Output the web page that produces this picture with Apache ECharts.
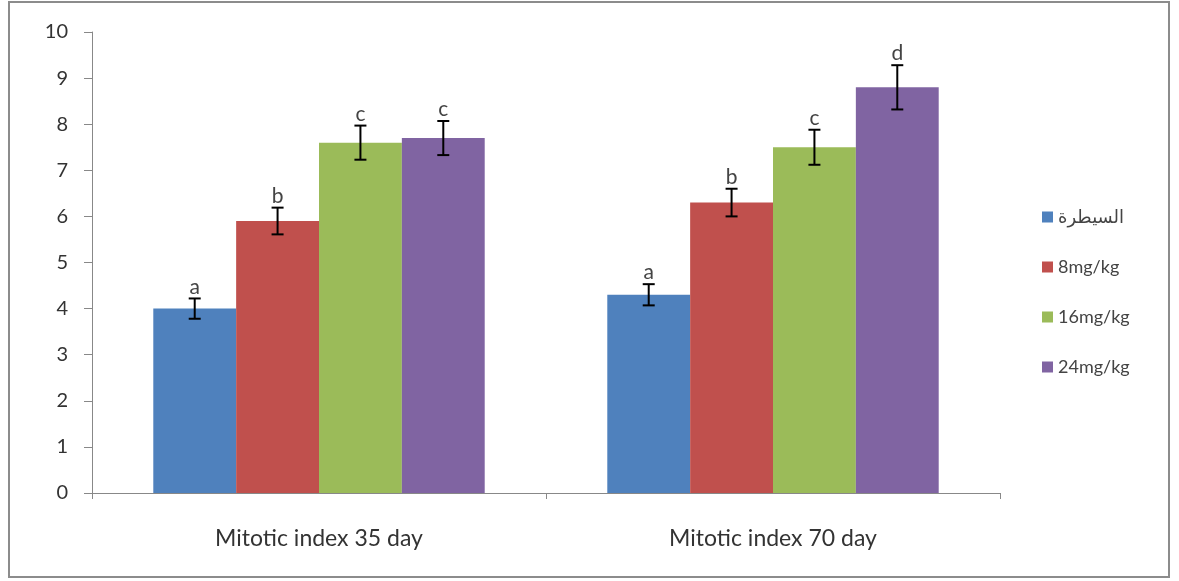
<!DOCTYPE html>
<html>
<head>
<meta charset="utf-8">
<script src="https://cdn.jsdelivr.net/npm/echarts@6/dist/echarts.min.js"></script>
<style>
  html, body { margin: 0; padding: 0; background: #fff; }
  #chart { width: 1179px; height: 581px; }
</style>
</head>
<body>
<div id="chart"></div>
<script>
// Mitotic index by dose group at two time points
const categories = ['Mitotic index 35 day', 'Mitotic index 70 day'];
const seriesNames = ['السيطرة', '8mg/kg', '16mg/kg', '24mg/kg'];
const colors = ['#4F81BD', '#C0504D', '#9BBB59', '#8064A2'];

const controlValues = [4.0, 4.3];
const dose8Values = [5.9, 6.3];
const dose16Values = [7.6, 7.5];
const dose24Values = [7.7, 8.8];

const controlErr = [0.22, 0.23];
const dose8Err = [0.29, 0.3];
const dose16Err = [0.37, 0.38];
const dose24Err = [0.37, 0.48];

const controlLetters = ['a', 'a'];
const dose8Letters = ['b', 'b'];
const dose16Letters = ['c', 'c'];
const dose24Letters = ['c', 'd'];

const yTicks = [0, 1, 2, 3, 4, 5, 6, 7, 8, 9, 10];

const values = [controlValues, dose8Values, dose16Values, dose24Values];
const errors = [controlErr, dose8Err, dose16Err, dose24Err];
const letters = [controlLetters, dose8Letters, dose16Letters, dose24Letters];

const CATEGORY_GAP = 0.27;
const FONT = 'Lato, "DejaVu Sans", sans-serif';

const chart = echarts.init(document.getElementById('chart'));

const barSeries = seriesNames.map((name, i) => ({
  name: name,
  type: 'bar',
  data: values[i],
  itemStyle: { color: colors[i] },
  barGap: '0%',
  barCategoryGap: (CATEGORY_GAP * 100) + '%',
  emphasis: { disabled: true }
}));

// Error bars and significance letters, positioned over each grouped bar
const errorSeries = seriesNames.map((name, i) => ({
  type: 'custom',
  name: name + '_err',
  z: 5,
  silent: true,
  data: values[i].map((v, j) => [j, v, errors[i][j], letters[i][j]]),
  renderItem: function (params, api) {
    const catIdx = api.value(0);
    const val = api.value(1);
    const err = api.value(2);
    const band = api.size([1, 0])[0];
    const barW = band * (1 - CATEGORY_GAP) / seriesNames.length;
    const offset = (i - (seriesNames.length - 1) / 2) * barW;
    const top = api.coord([catIdx, val + err]);
    const bot = api.coord([catIdx, val - err]);
    const x = top[0] + offset;
    const cap = 6;
    const style = { stroke: '#000', lineWidth: 2 };
    return {
      type: 'group',
      children: [
        { type: 'line', shape: { x1: x, y1: top[1], x2: x, y2: bot[1] }, style: style },
        { type: 'line', shape: { x1: x - cap, y1: top[1], x2: x + cap, y2: top[1] }, style: style },
        { type: 'line', shape: { x1: x - cap, y1: bot[1], x2: x + cap, y2: bot[1] }, style: style },
        {
          type: 'text',
          x: x, y: top[1] - 1,
          style: {
            text: api.value(3),
            textAlign: 'center', textVerticalAlign: 'bottom',
            fontSize: 21, fontFamily: FONT, fill: '#444'
          }
        }
      ]
    };
  }
}));

chart.setOption({
  animation: false,
  backgroundColor: '#fff',
  graphic: [{
    type: 'rect',
    shape: { x: 9, y: 2, width: 1160, height: 575 },
    style: { fill: 'none', stroke: '#8c8c8c', lineWidth: 2 },
    silent: true
  }],
  grid: { left: 92, right: 179, top: 32, bottom: 88 },
  legend: {
    data: seriesNames,
    orient: 'vertical',
    left: 1037,
    top: 203,
    itemWidth: 11,
    itemHeight: 11,
    itemGap: 32,
    icon: 'rect',
    textStyle: { fontSize: 18, fontFamily: FONT, color: '#444' }
  },
  xAxis: {
    type: 'category',
    data: categories,
    axisLine: { lineStyle: { color: '#888' } },
    axisTick: { show: true, length: 6, lineStyle: { color: '#888' } },
    axisLabel: { fontSize: 23, fontFamily: FONT, color: '#333', margin: 34 }
  },
  yAxis: {
    type: 'value',
    min: yTicks[0],
    max: yTicks[yTicks.length - 1],
    interval: 1,
    splitLine: { show: false },
    axisLine: { show: true, lineStyle: { color: '#888' } },
    axisTick: { show: true, length: 8, lineStyle: { color: '#888' } },
    axisLabel: { fontSize: 20, fontFamily: FONT, color: '#333', margin: 24 }
  },
  series: barSeries.concat(errorSeries)
});
</script>
</body>
</html>
